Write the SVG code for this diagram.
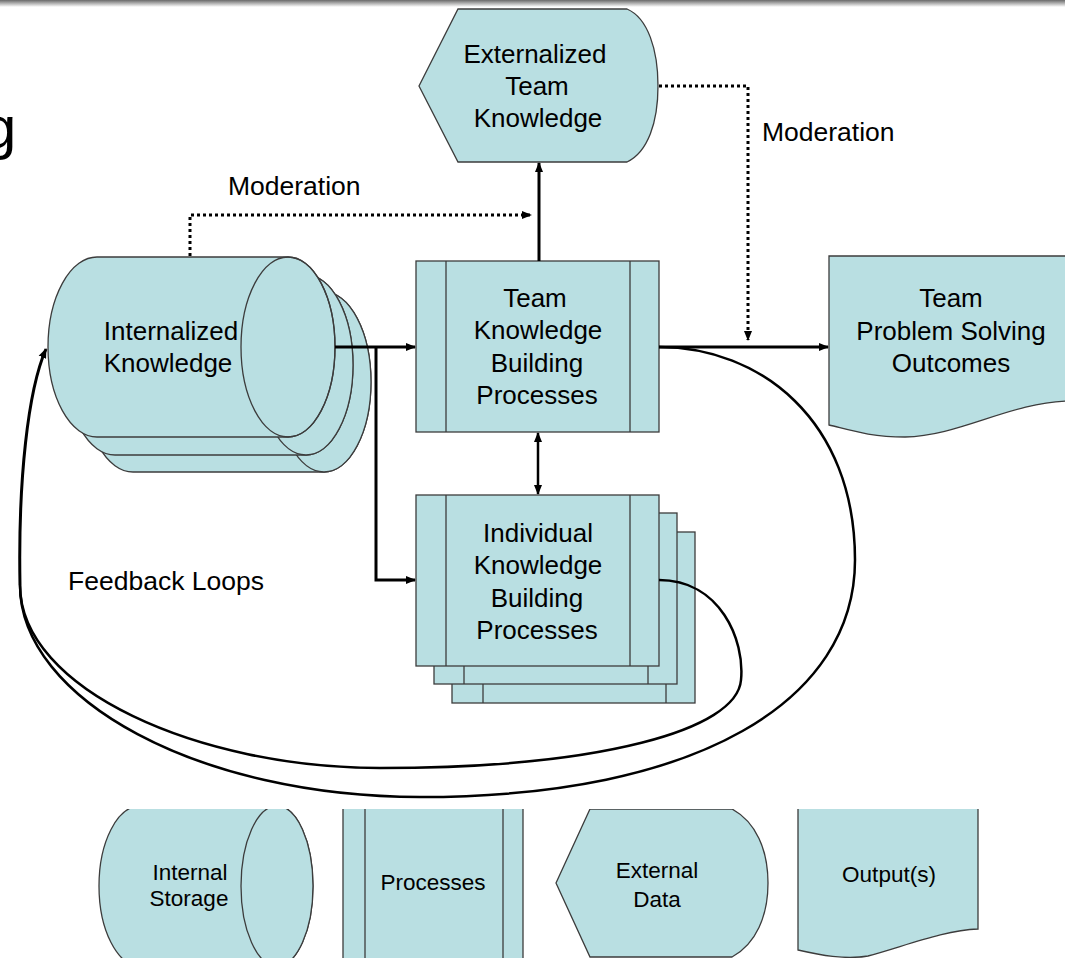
<svg xmlns="http://www.w3.org/2000/svg" width="1065" height="958" viewBox="0 0 1065 958">
<style>
.shape{fill:#B9DFE2;stroke:#3c3c3c;stroke-width:1.3}
.inner{fill:none;stroke:#3c3c3c;stroke-width:1.3}
.lbl{font-family:"Liberation Sans",Arial,sans-serif;font-size:26px;fill:#000;text-anchor:middle}
.leg{font-family:"Liberation Sans",Arial,sans-serif;font-size:22.5px;fill:#000;text-anchor:middle}
.free{font-family:"Liberation Sans",Arial,sans-serif;font-size:26.5px;fill:#000}
.solid{fill:none;stroke:#000;stroke-width:3}
.thin{fill:none;stroke:#000;stroke-width:2.5}
.dot{fill:none;stroke:#000;stroke-width:3;stroke-dasharray:3 3}
</style>
<defs>
<marker id="ah" viewBox="0 0 10 10" refX="9" refY="5" markerWidth="10" markerHeight="10" markerUnits="userSpaceOnUse" orient="auto-start-reverse">
<path d="M0,1 L10,5 L0,9 Z" fill="#000"/>
</marker>
<linearGradient id="topg" x1="0" y1="0" x2="0" y2="1">
<stop offset="0" stop-color="#6a6a6a"/>
<stop offset="1" stop-color="#ffffff"/>
</linearGradient>
<clipPath id="legclip"><rect x="0" y="809" width="1065" height="149"/></clipPath>
</defs>
<rect x="0" y="0" width="1065" height="958" fill="#fff"/>
<rect x="0" y="0" width="1065" height="7" fill="url(#topg)"/>
<text x="-17" y="148" font-family="Liberation Sans, Arial, sans-serif" font-size="60" fill="#000">g</text>

<g id="internalized">
<path class="shape" d="M133,292 L324,292 A47,90 0 0 1 324,472 L133,472 A49,90 0 0 1 133,292 Z"/>
<ellipse class="shape" cx="324" cy="382" rx="47" ry="90"/>
<path class="shape" d="M115,275 L306,275 A47,90 0 0 1 306,455 L115,455 A49,90 0 0 1 115,275 Z"/>
<ellipse class="shape" cx="306" cy="365" rx="47" ry="90"/>
<path class="shape" d="M97,257 L288,257 A47,90 0 0 1 288,437 L97,437 A49,90 0 0 1 97,257 Z"/>
<text class="lbl" x="171" y="340">Internalized</text>
<text class="lbl" x="168" y="372">Knowledge</text>
<ellipse class="shape" cx="288" cy="347" rx="47" ry="90" style="fill:none"/>
</g>

<g id="externalized">
<path class="shape" d="M458,9 L627,9 C648,18 658,50 658,86 C658,122 648,152 627,162 L458,162 L419,86 Z"/>
<text class="lbl" x="535" y="63">Externalized</text>
<text class="lbl" x="537" y="95">Team</text>
<text class="lbl" x="538" y="127">Knowledge</text>
</g>

<g id="team-process">
<rect class="shape" x="416" y="261" width="243" height="171"/>
<line class="inner" x1="446" y1="261" x2="446" y2="432"/>
<line class="inner" x1="630" y1="261" x2="630" y2="432"/>
<text class="lbl" x="535" y="307">Team</text>
<text class="lbl" x="538" y="339">Knowledge</text>
<text class="lbl" x="537" y="372">Building</text>
<text class="lbl" x="537" y="404">Processes</text>
</g>

<g id="individual-process">
<rect class="shape" x="452" y="532" width="243" height="171"/>
<line class="inner" x1="483" y1="532" x2="483" y2="703"/>
<line class="inner" x1="666" y1="532" x2="666" y2="703"/>
<rect class="shape" x="434" y="513" width="243" height="171"/>
<line class="inner" x1="464" y1="513" x2="464" y2="684"/>
<line class="inner" x1="648" y1="513" x2="648" y2="684"/>
<rect class="shape" x="416" y="495" width="243" height="171"/>
<line class="inner" x1="446" y1="495" x2="446" y2="666"/>
<line class="inner" x1="630" y1="495" x2="630" y2="666"/>
<text class="lbl" x="538" y="542">Individual</text>
<text class="lbl" x="538" y="574">Knowledge</text>
<text class="lbl" x="537" y="607">Building</text>
<text class="lbl" x="537" y="639">Processes</text>
</g>

<g id="outcomes">
<path class="shape" d="M829,256 L1070,256 L1070,401 C1010,402 960,436 905,437 C870,437 850,430 829,425 Z"/>
<text class="lbl" x="951" y="307">Team</text>
<text class="lbl" x="951" y="340">Problem Solving</text>
<text class="lbl" x="951" y="372">Outcomes</text>
</g>

<g id="connectors">
<line class="solid" x1="539" y1="261" x2="539" y2="163" marker-end="url(#ah)"/>
<polyline class="dot" points="190,256 190,215 531,215" marker-end="url(#ah)"/>
<polyline class="dot" points="659,86 748,86 748,340" marker-end="url(#ah)"/>
<line class="solid" x1="335" y1="347" x2="415" y2="347" marker-end="url(#ah)"/>
<polyline class="solid" points="376,347 376,580 415,580" marker-end="url(#ah)"/>
<line class="solid" x1="659" y1="347" x2="828" y2="347" marker-end="url(#ah)"/>
<line class="thin" x1="538" y1="433" x2="538" y2="494" marker-start="url(#ah)" marker-end="url(#ah)"/>
<path class="thin" d="M659,347 C760,347 855,420 855,560 C855,700 700,797 420,797 C200,797 20,700 20,585"/>
<path class="thin" d="M659,580 C720,580 745,640 741,680 C737,730 600,768 380,768 C200,768 20,690 20,585"/>
<path class="solid" d="M20,585 C18,480 28,390 46,349" marker-end="url(#ah)"/>
</g>

<g id="labels">
<text class="free" x="228" y="195">Moderation</text>
<text class="free" x="762" y="141">Moderation</text>
<text class="free" x="68" y="590">Feedback Loops</text>
</g>

<g id="legend" clip-path="url(#legclip)">
<g id="leg-storage">
<path class="shape" d="M140,806 L277,806 A36,80 0 0 1 277,966 L140,966 A41,80 0 0 1 140,806 Z"/>
<ellipse class="shape" cx="277" cy="886" rx="36" ry="80"/>
<text class="leg" x="190" y="880">Internal</text>
<text class="leg" x="189" y="906">Storage</text>
</g>
<g id="leg-process">
<rect class="shape" x="343" y="800" width="180" height="170"/>
<line class="inner" x1="365" y1="800" x2="365" y2="970"/>
<line class="inner" x1="503" y1="800" x2="503" y2="970"/>
<text class="leg" x="433" y="890">Processes</text>
</g>
<g id="leg-external">
<path class="shape" d="M590,809 L732,809 C756,822 768,850 768,883 C768,916 756,944 732,957 L590,957 L556,883 Z"/>
<text class="leg" x="657" y="878">External</text>
<text class="leg" x="657" y="907">Data</text>
</g>
<g id="leg-output">
<path class="shape" d="M798,800 L978,800 L978,929 C945,930 905,946 868,956 C845,960 820,955 798,950 Z"/>
<text class="leg" x="889" y="882">Output(s)</text>
</g>
</g>
</svg>
